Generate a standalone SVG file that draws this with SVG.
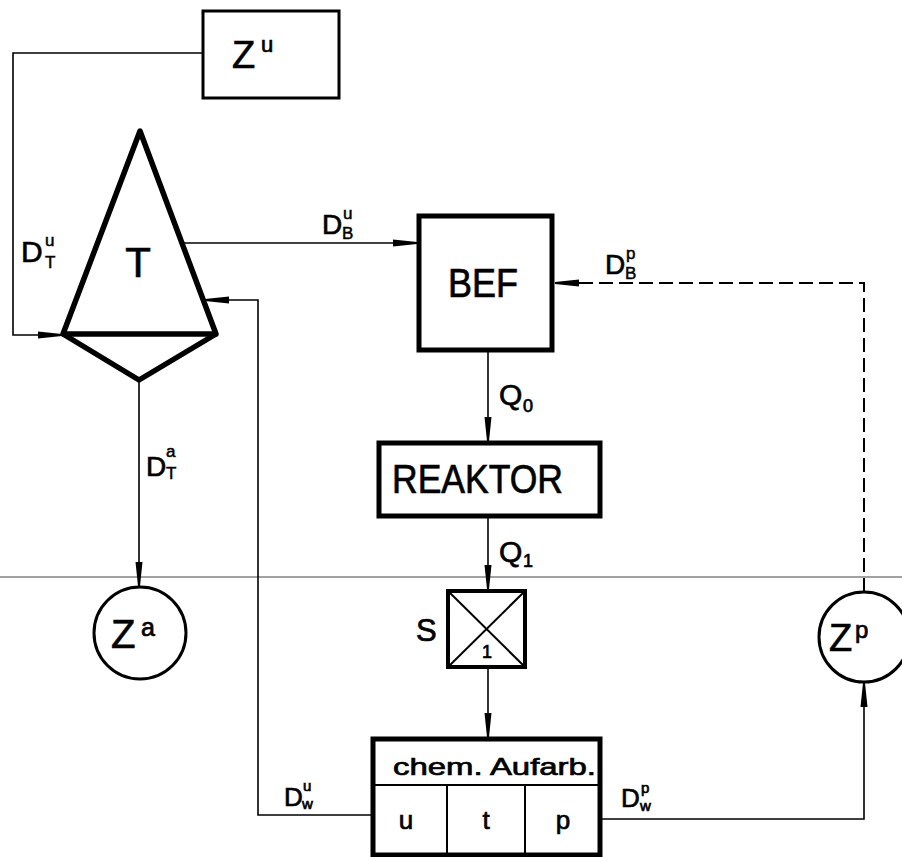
<svg xmlns="http://www.w3.org/2000/svg" width="902" height="857" viewBox="0 0 902 857">
<style>
text{font-family:"Liberation Sans",Arial,sans-serif;fill:#000;stroke:#000;stroke-width:0.7}
.thin{fill:none;stroke:#000;stroke-width:1.6}
.thick{fill:#fff;stroke:#000;stroke-width:5}
.med{fill:#fff;stroke:#000;stroke-width:3}
.dash{fill:none;stroke:#000;stroke-width:2;stroke-dasharray:14 6}
.lbl{font-size:28px}
.sm{font-size:17px;stroke-width:0.5}
</style>
<defs>
<marker id="ah" markerUnits="userSpaceOnUse" markerWidth="26" markerHeight="10" viewBox="0 0 26 10" refX="24" refY="5" orient="auto">
<path d="M0,1.5 L24,4 L24,6 L0,8.5 Z" fill="#000"/>
</marker>
</defs>
<rect width="902" height="857" fill="#fff"/>
<line x1="0" y1="577" x2="902" y2="577" stroke="#444" stroke-width="1.2"/>
<g id="connectors">
<polyline class="thin" points="202,53 13,53 13,335 62,335" marker-end="url(#ah)"/>
<line class="thin" x1="184" y1="243" x2="417" y2="243" marker-end="url(#ah)"/>
<polyline class="thin" points="372,815 258,815 258,300 205,300" marker-end="url(#ah)"/>
<line class="thin" x1="139" y1="380" x2="139" y2="586" marker-end="url(#ah)"/>
<line class="thin" x1="488" y1="350" x2="488" y2="441" marker-end="url(#ah)"/>
<line class="thin" x1="488" y1="517" x2="488" y2="589" marker-end="url(#ah)"/>
<line class="thin" x1="488" y1="668" x2="488" y2="737" marker-end="url(#ah)"/>
<polyline class="thin" points="600,819 864,819 864,683" marker-end="url(#ah)"/>
<polyline class="dash" points="864,592 864,283 556,283"/>
<line x1="580" y1="283" x2="555" y2="283" stroke="none" marker-end="url(#ah)"/>
</g>
<g id="Zu">
<rect x="203" y="11" width="136" height="87" fill="#fff" stroke="#000" stroke-width="3"/>
<text x="232" y="68" font-size="38">Z</text>
<text x="261" y="52" font-size="22">u</text>
</g>
<g id="T">
<polygon points="140,131 63,334 216,334" fill="#fff" stroke="#000" stroke-width="5.5" stroke-linejoin="round"/>
<polyline points="63,334 139,380 216,334" fill="none" stroke="#000" stroke-width="5.5" stroke-linejoin="round"/>
<line x1="63" y1="334" x2="216" y2="334" stroke="#000" stroke-width="2"/>
<text x="138" y="277" font-size="42" text-anchor="middle">T</text>
</g>
<g id="BEF">
<rect x="419" y="216" width="133" height="134" class="thick"/>
<text x="483" y="297" font-size="40" text-anchor="middle" textLength="70" lengthAdjust="spacingAndGlyphs">BEF</text>
</g>
<g id="REAKTOR">
<rect x="379" y="443" width="221" height="73" class="thick"/>
<text x="392" y="493" font-size="40" textLength="171" lengthAdjust="spacingAndGlyphs">REAKTOR</text>
</g>
<g id="S">
<rect x="448" y="591" width="77" height="76" fill="#fff" stroke="#000" stroke-width="4"/>
<line x1="448" y1="591" x2="525" y2="667" stroke="#000" stroke-width="2"/>
<line x1="525" y1="591" x2="448" y2="667" stroke="#000" stroke-width="2"/>
<text x="487" y="658" font-size="18" text-anchor="middle">1</text>
<text x="416" y="641" font-size="31">S</text>
</g>
<g id="chem">
<rect x="373" y="739" width="227" height="116" class="thick"/>
<line x1="373" y1="785" x2="600" y2="785" stroke="#000" stroke-width="2"/>
<line x1="447" y1="785" x2="447" y2="855" stroke="#000" stroke-width="2"/>
<line x1="525" y1="785" x2="525" y2="855" stroke="#000" stroke-width="2"/>
<text x="393" y="775" font-size="24" textLength="203" lengthAdjust="spacingAndGlyphs">chem. Aufarb.</text>
<text x="406" y="829" font-size="26" text-anchor="middle">u</text>
<text x="486" y="829" font-size="26" text-anchor="middle">t</text>
<text x="563" y="829" font-size="26" text-anchor="middle">p</text>
</g>
<g id="Za">
<circle cx="140" cy="633" r="46" class="med"/>
<text x="111" y="648" font-size="40">Z</text>
<text x="141" y="636" font-size="25">a</text>
</g>
<g id="Zp">
<circle cx="864" cy="637" r="45" class="med"/>
<text x="829" y="651" font-size="38">Z</text>
<text x="855" y="638" font-size="24">p</text>
</g>
<g id="labels">
<text x="21" y="262" font-size="30">D</text>
<text x="45" y="246" class="sm">u</text>
<text x="45" y="268" class="sm">T</text>
<text x="322" y="234" class="lbl">D</text>
<text x="343" y="219" class="sm">u</text>
<text x="342" y="239" class="sm">B</text>
<text x="605" y="274" class="lbl">D</text>
<text x="626" y="259" class="sm">p</text>
<text x="625" y="279" class="sm">B</text>
<text x="146" y="476" class="lbl">D</text>
<text x="166" y="457" class="sm">a</text>
<text x="166" y="479" class="sm">T</text>
<text x="499" y="405" font-size="30">Q</text>
<text x="523" y="412" font-size="18">0</text>
<text x="499" y="562" font-size="30">Q</text>
<text x="523" y="567" font-size="18">1</text>
<text x="284" y="806" font-size="26">D</text>
<text x="303" y="791" font-size="15" stroke-width="0.4">u</text>
<text x="302" y="809" font-size="15" stroke-width="0.4">w</text>
<text x="621" y="807" font-size="26">D</text>
<text x="641" y="793" font-size="15" stroke-width="0.4">p</text>
<text x="640" y="811" font-size="15" stroke-width="0.4">w</text>
</g>
</svg>
